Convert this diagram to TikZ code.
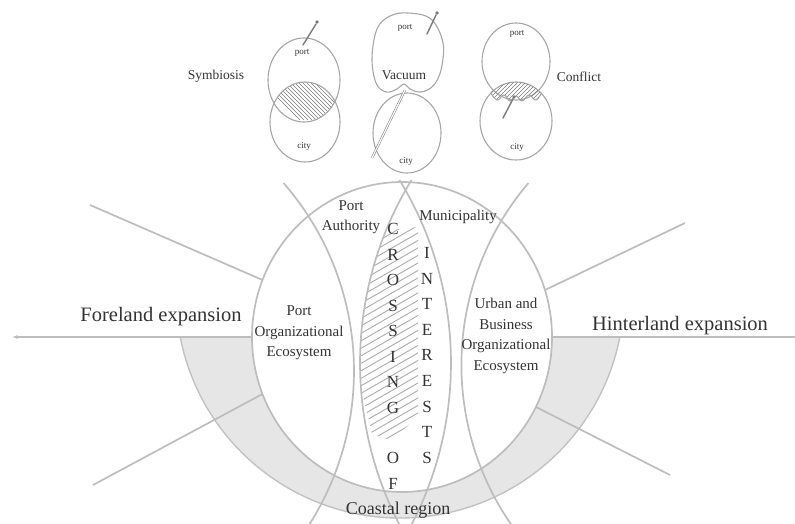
\documentclass[tikz,border=0pt]{standalone}
\usepackage{fontspec}
\setmainfont{Liberation Serif}
\usetikzlibrary{arrows.meta}
\definecolor{ln}{HTML}{BDBDBD}
\definecolor{bandfill}{HTML}{E6E6E6}
\definecolor{bandedge}{HTML}{C2C2C2}
\definecolor{txt}{HTML}{333333}
\definecolor{venn}{HTML}{A6A6A6}
\definecolor{hatchc}{HTML}{ABABAB}
\definecolor{vhatch}{HTML}{7A7A7A}
\begin{document}
\begin{tikzpicture}[x=1pt,y=-1pt,
  gl/.style={draw=ln, line width=1.7pt},
  vennline/.style={draw=venn, line width=1.1pt},
  pinline/.style={draw=vhatch, line width=1.4pt, line cap=round},
  lh/.style={draw=hatchc, line width=0.9pt},
  vh/.style={draw=vhatch, line width=0.6pt},
  lab/.style={text=txt, inner sep=0pt, align=center, font=\fontsize{15}{20.5}\selectfont},
  letter/.style={text=txt, inner sep=0pt, font=\fontsize{17}{20}\selectfont},
  big/.style={text=txt, inner sep=0pt, font=\fontsize{20.5}{24}\selectfont},
  small/.style={text=txt, inner sep=0pt, font=\fontsize{9}{10}\selectfont},
  mid/.style={text=txt, inner sep=0pt, font=\fontsize{13.5}{15}\selectfont}]
\useasboundingbox (0,0) rectangle (795,524);
\begin{scope}
\clip (0,0) rectangle (795,524);
% coastal band
\fill[bandfill] (180.2,337) arc[start angle=168.93, end angle=11.07, radius=224]
  -- (552,337) arc[start angle=0, end angle=180, x radius=150, y radius=155] -- cycle;
\draw[draw=bandedge, line width=1.4pt] (180.2,337) arc[start angle=168.93, end angle=11.07, radius=224];
% hatch of central lens
\begin{scope}
\clip (711,363) circle[radius=351];
\clip (366,242) -- (388,230) -- (418,227) -- (418,418) -- (390,440) -- (372,434) -- (340,300) -- cycle;
\foreach \k in {0,...,30} \draw[lh] (340,{248+\k*7.5}) -- ++(90,-52);
\end{scope}
% main circle
\draw[gl] (402,337) ellipse[x radius=150, y radius=155];
% big arcs
\draw[gl] ([shift={(-41.09:286)}]68,371) arc[start angle=-41.09, end angle=32.34, radius=286];
\draw[gl] ([shift={(220.44:280.6)}]742,365) arc[start angle=220.44, end angle=145.48, radius=280.6];
\draw[gl] ([shift={(211.43:351)}]711,363) arc[start angle=211.43, end angle=152.7, radius=351];
\draw[gl] ([shift={(-31.43:351)}]100,363) arc[start angle=-31.43, end angle=27.3, radius=351];
% radial lines
\draw[gl] (90,205) -- (262.5,280);
\draw[gl] (545,290) -- (685,223);
\draw[gl] (536,407) -- (670,475);
\draw[gl] (262.5,394) -- (93,485);
% horizontal axis
\draw[gl, {Stealth[length=5pt,width=4pt]}-] (13,337) -- (252,337);
\draw[gl] (552,337) -- (795,337);
\end{scope}

% ---------- small Venn diagrams ----------
% Symbiosis
\begin{scope}
\clip (304,80) ellipse[x radius=36, y radius=42];
\clip (305,122) ellipse[x radius=35, y radius=40];
\foreach \k in {0,...,30} \draw[vh] ({250+\k*4},70) -- ++(50,50);
\end{scope}
\draw[vennline] (304,80) ellipse[x radius=36, y radius=42];
\draw[vennline] (305,122) ellipse[x radius=35, y radius=40];
\draw[pinline] (303,45) -- (316,24);
\fill[vhatch] (317,22) circle[radius=1.8];
% Vacuum
\draw[vennline] plot[smooth cycle, tension=0.6] coordinates {(408,13) (431,19) (443,43) (441,70) (433,86) (421,92) (410,89) (404,84) (397,89) (386,92) (376,83) (372,58) (377,29) (390,16)};
\draw[vennline] (407,133) ellipse[x radius=34, y radius=40];
\draw[draw=vhatch, line width=0.5pt, double=white, double distance=1.2pt] (405,90) -- (372,158);
\draw[pinline] (427,34) -- (436,15);
\fill[vhatch] (437,13) circle[radius=1.8];
% Conflict
\draw[vennline] (516,61.5) ellipse[x radius=34, y radius=38.5];
\draw[vennline] (516,121) ellipse[x radius=36, y radius=39];
\begin{scope}
\clip (516,121) ellipse[x radius=36, y radius=39];
\clip plot[smooth, tension=0.7] coordinates {(490,92) (497,100) (504,95) (510,101) (516,96) (522,101) (529,95) (536,100) (542,92)} -- (542,70) -- (490,70) -- cycle;
\foreach \k in {0,...,20} \draw[vh] ({470+\k*4},110) -- ++(35,-35);
\end{scope}
\begin{scope}
\clip (516,121) ellipse[x radius=36, y radius=39];
\draw[vennline] plot[smooth, tension=0.7] coordinates {(490,92) (497,100) (504,95) (510,101) (516,96) (522,101) (529,95) (536,100) (542,92)};
\end{scope}
\draw[pinline] (503,118) -- (513,99);
\fill[vhatch] (514,97) circle[radius=1.8];

% venn texts
\node[small] (p1) at (302,53) {port};
\node[small] (c1) at (304,146) {city};
\node[small] (p2) at (405,28) {port};
\node[small] (c2) at (406,161) {city};
\node[small] (p3) at (517,34) {port};
\node[small] (c3) at (517,147) {city};
\node[mid] (sym) at (216,76) {Symbiosis};
\node[mid] (vac) at (404,75) {Vacuum};
\node[mid] (conf) at (579,77) {Conflict};

% ---------- main texts ----------
\node[big] (fore) at (161,317) {Foreland expansion};
\node[big] (hinter) at (680,326) {Hinterland expansion};
\node[text=txt, inner sep=0pt, font=\fontsize{18}{20}\selectfont] (coast) at (398,510) {Coastal region};
\node[lab] (pa) at (351,217) {Port\\Authority};
\node[lab] (muni) at (458,217) {Municipality};
\node[lab] (poe) at (299,333) {Port\\Organizational\\Ecosystem};
\node[lab] (ube) at (506,336) {Urban and\\Business\\Organizational\\Ecosystem};
\foreach \L [count=\i] in {C,R,O,S,S,I,N,G}
  \node[letter] (cr\i) at (393,{229+25.5*(\i-1)}) {\L};
\node[letter] (crO) at (393,458) {O};
\node[letter] (crF) at (393,484) {F};
\foreach \L [count=\i] in {I,N,T,E,R,E,S,T,S}
  \node[letter] (in\i) at (427,{253+25.6*(\i-1)}) {\L};
\end{tikzpicture}
\end{document}
